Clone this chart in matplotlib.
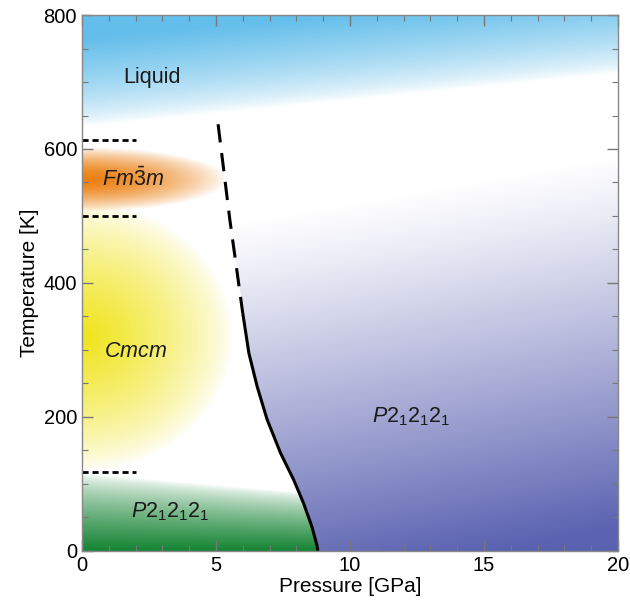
import numpy as np
import matplotlib.pyplot as plt
from matplotlib.ticker import MultipleLocator

plt.rcParams['font.family'] = ['Liberation Sans', 'DejaVu Sans']
plt.rcParams['mathtext.fontset'] = 'custom'
plt.rcParams['mathtext.rm'] = 'Liberation Sans'
plt.rcParams['mathtext.it'] = 'Liberation Sans:italic'

# phase boundary (P in GPa, T in K)
boundary_P = [5.08, 5.52, 6.00, 6.23, 6.54, 6.91, 7.41, 7.90, 8.27, 8.58, 8.77, 8.80]
boundary_T = [637, 494, 355, 295, 245, 196, 146, 106, 71, 36, 8, 0]
solid_from_T = 355          # below this the boundary is solid, above dashed

# dotted guide lines at the left
guide_T = [613, 500, 118]
guide_P_max = 2.0

# phase labels
labels = ["Liquid", r"$\mathit{Fm\bar{3}m}$", r"$\mathit{Cmcm}$",
          r"$\mathit{P2_12_12_1}$", r"$\mathit{P2_12_12_1}$"]
label_P = [2.6, 1.9, 2.0, 3.3, 12.3]
label_T = [707, 554, 297, 58, 200]

# colours of the shaded regions
liquid_rgb = np.array([100, 190, 235]) / 255
fm3m_rgb = np.array([236, 128, 18]) / 255
cmcm_rgb = np.array([240, 228, 25]) / 255
green_rgb = np.array([22, 132, 52]) / 255
purple_rgb = np.array([90, 97, 176]) / 255

P_lim = (0, 20)
T_lim = (0, 800)

# ---- background shading ----
P = np.linspace(*P_lim, 500)
T = np.linspace(*T_lim, 500)
PP, TT = np.meshgrid(P, T)
img = np.ones(PP.shape + (3,))

# boundary pressure for each temperature
order = np.argsort(boundary_T)
Pb = np.interp(TT, np.array(boundary_T)[order], np.array(boundary_P)[order])
left = PP < Pb


def blend(img, rgb, alpha):
    a = alpha[..., None]
    return img * (1 - a) + rgb * a


# liquid: fades down from the top, tilted edge
a_liq = np.clip((TT - (635 + 4 * PP)) / 130, 0, 1) ** 0.7
img = blend(img, liquid_rgb, a_liq)

# P212121 high-pressure: purple, fades upward, tilted
a_pur = np.clip((450 + 7 * PP - TT) / 560, 0, 1) ** 1.1
a_pur[left] = 0
img = blend(img, purple_rgb, a_pur)

# Cmcm: yellow blob
r = np.sqrt((PP / 5.6) ** 2 + ((TT - 320) / 200) ** 2)
a_cm = np.clip(1 - r, 0, 1) ** 0.75
img = blend(img, cmcm_rgb, a_cm)

# Fm-3m: orange ellipse
r = np.sqrt((PP / 5.4) ** 2 + ((TT - 555) / 48) ** 2)
a_fm = np.clip(1 - r ** 1.6, 0, 1) ** 0.9
img = blend(img, fm3m_rgb, a_fm)

# low-T P212121: green band
a_gr = np.clip((115 - 3.5 * PP - TT) / (115 - 3.5 * PP), 0, 1) ** 0.7
a_gr[~left] = 0
img = blend(img, green_rgb, a_gr)

fig = plt.figure(figsize=(6.3, 6.02), dpi=100)
ax = fig.add_axes([0.130, 0.085, 0.851, 0.890])
ax.imshow(img, origin='lower', extent=[*P_lim, *T_lim], aspect='auto',
          interpolation='bilinear', zorder=0)

# boundary line
bP = np.array(boundary_P)
bT = np.array(boundary_T)
solid = bT <= solid_from_T
dashed = bT >= solid_from_T
ax.plot(bP[solid], bT[solid], color='black', lw=2.2, solid_capstyle='butt',
        solid_joinstyle='round')
ax.plot(bP[dashed], bT[dashed], color='black', lw=2.2, dashes=(6, 3.5))

for t in guide_T:
    ax.plot([0, guide_P_max], [t, t], color='black', lw=2, dashes=(2.2, 1.4))

for txt, p, t in zip(labels, label_P, label_T):
    ax.text(p, t, txt, fontsize=15.5, ha='center', va='center', color='#1a1a1a')

ax.set_xlim(*P_lim)
ax.set_ylim(*T_lim)
ax.xaxis.set_major_locator(MultipleLocator(5))
ax.xaxis.set_minor_locator(MultipleLocator(1))
ax.yaxis.set_major_locator(MultipleLocator(200))
ax.yaxis.set_minor_locator(MultipleLocator(50))
ax.tick_params(which='both', direction='in', top=True, right=True,
               color='#777777', labelsize=14.5)
ax.tick_params(which='major', length=8, width=1)
ax.tick_params(which='minor', length=4, width=0.8)
for s in ax.spines.values():
    s.set_color('#888888')
    s.set_linewidth(1)

ax.set_xlabel("Pressure [GPa]", fontsize=15, labelpad=2)
ax.set_ylabel("Temperature [K]", fontsize=15, labelpad=3)

fig.savefig("out.png", dpi=100)
